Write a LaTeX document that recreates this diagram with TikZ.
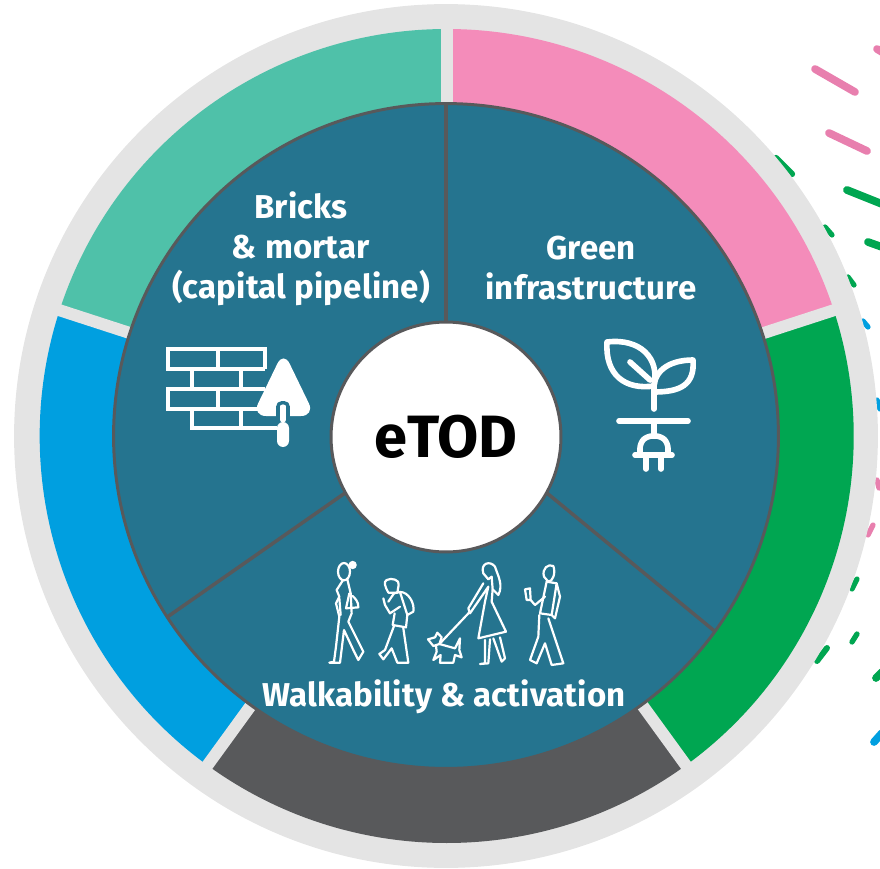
\documentclass[tikz,border=0pt]{standalone}
\usepackage{fontspec}
\usepackage{xcolor}
\setmainfont{Fira Sans}
\newfontfamily\labelfont[LetterSpace=0.5]{Fira Sans}
\usetikzlibrary{positioning,calc}
\definecolor{halogrey}{HTML}{E4E4E4}
\definecolor{wheelteal}{HTML}{25748F}
\definecolor{spokegrey}{HTML}{58595B}
\definecolor{ringpink}{HTML}{F48CBA}
\definecolor{ringgreen}{HTML}{00A651}
\definecolor{ringblue}{HTML}{009FE0}
\definecolor{ringmint}{HTML}{4FC1A9}
\definecolor{dashpink}{HTML}{E87FAE}
\tikzset{
    disc/.style={circle, inner sep=0pt, outer sep=0pt},
    spoke/.style={draw=spokegrey, line width=2pt},
    gapline/.style={draw=halogrey, line width=0.24cm},
    wheellabel/.style={text=white, font=\labelfont\fontsize{18.8}{22.7}\selectfont\bfseries, align=center, inner sep=0pt},
    iconline/.style={draw=white, line width=2.2pt},
    iconround/.style={draw=white, line width=3.2pt, line cap=round, line join=round},
    figline/.style={draw=white, line width=1.25pt, line cap=round, line join=round},
    figarea/.style={shift={(#1)}, x=0.00667cm, y=-0.00667cm},
}
\begin{document}
\begin{tikzpicture}[x=0.02cm, y=-0.02cm]
    \useasboundingbox (0,0) rectangle (880,869);

    \foreach \xa/\ya/\xb/\yb/\tint/\w in {
        815/69/855/92/dashpink/4.4, 829/133/867/151/dashpink/4.4, 877/49/882/52/dashpink/4.4,
        847/190/882/204/ringgreen/4.4, 868/242/882/247/ringgreen/4.4, 776/158/792/174/ringgreen/3.6,
        825/227/832/235/ringgreen/3, 848/277/854/285/ringgreen/3, 863/321/868/327/ringblue/3,
        877/400/880/409/ringblue/3, 877/480/879/488/dashpink/3, 868/535/873/525/dashpink/3,
        852/589/857/579/ringgreen/3, 852/642/857/634/ringgreen/3, 817/661/827/648/ringgreen/3.4,
        876/678/882/672/ringgreen/4.4, 874/742/882/733/ringblue/4.4}
        \draw [\tint, line width=\w pt, line cap=round] (\xa,\ya) -- (\xb,\yb);

    \node [disc, fill=halogrey, minimum size=17.28cm] (halo) at (446,436) {};
    \coordinate (ringcentre) at (446.7,436);

    \foreach \from/\tint in {-90/ringpink, -18/ringgreen, 54/spokegrey, 126/ringblue, 198/ringmint}
        \fill [\tint] (ringcentre) -- +(\from:407) arc [start angle=\from, delta angle=72, radius=407] -- cycle;
    \foreach \ang in {-90, -18, 54, 126, 198}
        \draw [gapline] (ringcentre) -- +(\ang:420);

    \node [disc, fill=wheelteal, draw=spokegrey, line width=1.7pt, minimum size=13.3cm] (wheel) at (446,436) {};
    \node [disc, fill=white, draw=spokegrey, line width=1.7pt, minimum size=4.6cm] (hub) at (446,437)
        {\fontsize{34}{34}\selectfont\bfseries eTOD};
    \draw [spoke] (hub.90) -- (wheel.90);
    \draw [spoke] (hub.-29) -- (wheel.-36);
    \draw [spoke] (hub.-151) -- (wheel.-147);

    \node [wheellabel] (bricks) at (301,249) {Bricks\\\& mortar\\(capital pipeline)};
    \node [wheellabel] (green) at (591,268) {Green\\infrastructure};
    \node [wheellabel] (walk) at (444,697) {Walkability \& activation};

    % wall and trowel
    \draw [iconline] (265,369) |- (168,349) |- (265,369) (218,349) -- (218,369);
    \draw [iconline] (192,369) |- (265,389) (192,369) -- (192,389) (241,369) -- (241,389);
    \draw [iconline] (265,409) -| (168,389) -- (265,389) (218,389) -- (218,409);
    \draw [iconline] (277,428) -| (192,409) -- (265,409) (241,409) -- (241,428);
    \fill [white, rounded corners=8pt] (283.5,351) -- (315,416) -- (252,416) -- cycle;
    \draw [wheelteal, line width=2pt, rounded corners=2pt] (278,424) -- (278,403) -- (288,403) -- (288,424);
    \draw [white, line width=3pt, line cap=round] (283,407) -- (283,420);
    \fill [white, rounded corners=3.5pt] (277,422) rectangle (289,447);

    % plant and plug
    \draw [iconround] (607,342) .. controls (640,338) and (660,358) .. (654,386)
        .. controls (625,390) and (605,375) .. cycle;
    \draw [iconround] (630,362) -- (650,380);
    \draw [iconround] (693,360) .. controls (668,360) and (652,372) .. (654,392)
        .. controls (680,392) and (695,385) .. cycle;
    \draw [iconround] (654,386) -- (654,409);
    \draw [iconround] (619,421) -- (688,421);
    \draw [iconround] (654,421) -- (654,436);
    \draw [iconround, rounded corners=3pt] (640,455) -- (640,443) -- (647,436) -- (661,436) -- (668,443) -- (668,455);
    \draw [iconround] (635,455) -- (672,455);
    \draw [iconround] (646,455) -- (646,469);
    \draw [iconround] (661,455) -- (661,469);

    % first woman, boy, dog
    \begin{scope}[figarea={320,550}]
        \draw [figline] (72,65) ellipse [x radius=18, y radius=26];
        \draw [figline, fill=white] (98,45) circle [radius=9];
        \draw [figline] (68,92) -- (50,120) -- (58,140) -- (48,160) -- (58,200) -- (48,290) -- (42,335) -- (28,338) -- (60,338)
            -- (72,240) -- (100,300) -- (115,330) -- (130,305) -- (85,215) -- (95,190) -- (92,130) -- (82,88);
        \draw [figline] (78,175) -- (115,172) .. controls (116,155) and (105,145) .. (98,138);
        \draw [figline] (78,175) -- (88,130);
        \draw [figline] (58,145) -- (62,195);
        \draw [figline] (205,128) .. controls (195,110) and (190,95) .. (200,90) .. controls (215,82) and (240,90) .. (236,105)
            -- (232,128) -- (205,128);
        \draw [figline] (222,130) -- (240,126) .. controls (265,125) and (285,160) .. (280,185) -- (262,195);
        \draw [figline] (240,126) -- (262,195) -- (258,232) -- (218,225) -- (224,190);
        \draw [figline] (190,145) -- (195,165) -- (210,190) -- (240,170);
        \draw [figline] (222,130) -- (205,155);
        \draw [figline] (222,228) -- (195,300) -- (178,312) -- (190,328) -- (215,295) -- (232,338) -- (265,338) -- (250,235);
    \end{scope}

    % second woman, dog, man
    \begin{scope}[figarea={420,550}]
        \draw [figline] (60,280) -- (150,185);
        \draw [figline] (24,268) -- (45,262) -- (52,248) -- (65,262) -- (58,282) -- (40,288) -- cycle;
        \draw [figline] (58,282) -- (105,295) -- (120,265) -- (118,300) -- (125,322) -- (105,315) -- (100,338) -- (60,338) -- (62,315)
            -- (40,330) -- (50,305) -- (48,287);
        \draw [figline] (190,70) .. controls (180,40) and (210,30) .. (225,50) .. controls (235,80) and (250,105) .. (235,135)
            -- (218,118) -- (215,80) -- (205,88) -- (190,70);
        \draw [figline] (190,100) -- (145,175) -- (150,190) -- (205,110) -- (195,155) -- (175,265) -- (258,245) -- (215,155) -- (218,118);
        \draw [figline] (195,270) -- (195,340) -- (180,342) -- (205,340) -- (210,268);
        \draw [figline] (220,265) -- (245,335) -- (255,325) -- (240,262);
        \draw [figline] (372,80) .. controls (365,55) and (385,40) .. (400,48) .. controls (408,70) and (398,95) .. (385,95) -- (372,80);
        \draw [figline] (380,95) -- (360,190) -- (395,195) -- (410,100) -- (420,140) -- (405,205) -- (395,195);
        \draw [figline] (380,95) -- (410,100);
        \draw [figline] (315,118) -- (330,115) -- (332,150) -- (320,150) -- cycle;
        \draw [figline] (332,150) -- (345,165) -- (375,140);
        \draw [figline] (358,195) -- (355,260) -- (330,330) -- (350,340) -- (375,280) -- (395,345) -- (430,340) -- (385,205);
    \end{scope}
\end{tikzpicture}
\end{document}
